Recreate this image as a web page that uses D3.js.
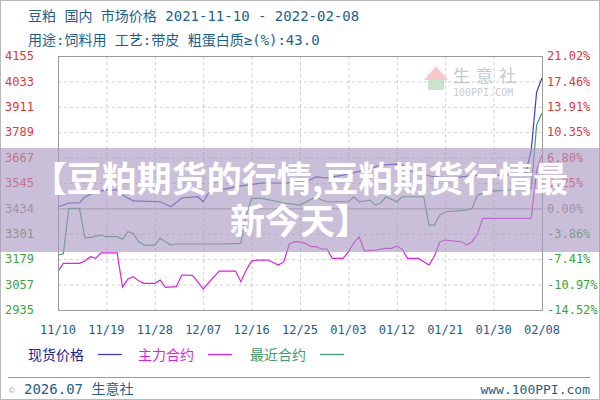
<!DOCTYPE html>
<html lang="zh">
<head>
<meta charset="utf-8">
<title>豆粕 市场价格</title>
<script src="https://d3js.org/d3.v7.min.js"></script>
<style>
    body {
        margin: 0;
        background: #fff;
    }
    svg {
        display: block;
    }
    text {
        font-family: "DejaVu Sans Mono", "Noto Sans CJK SC", monospace;
    }
    .cjk {
        font-family: "Noto Sans CJK SC", sans-serif;
    }
</style>
</head>
<body>
<svg id="chart"></svg>
<script>
// tick labels
const dateLabels = ["11/10", "11/19", "11/28", "12/07", "12/16", "12/25", "01/03", "01/12", "01/21", "01/30", "02/08"];
const leftLabels = ["2935", "3057", "3179", "3301", "3434", "3545", "3667", "3789", "3911", "4033", "4155"];
const rightLabels = ["-14.52%", "-10.97%", "-7.41%", "-3.86%", "0.00%", "3.25%", "6.80%", "10.35%", "13.91%", "17.46%", "21.02%"];

// 现货价格 (day offset from 2021-11-10, price)
const spotDay = [0, 2, 4, 5, 7, 9, 11, 12, 14, 19, 21, 23, 26, 27, 28, 30, 34, 38, 42, 46, 48, 50, 53, 57, 60, 63, 64, 66, 70, 73, 78, 82, 86, 87, 88, 89, 90];
const spotPrice = [3430, 3449, 3449, 3478, 3502, 3511, 3511, 3487, 3459, 3455, 3431, 3473, 3479, 3455, 3497, 3511, 3531, 3545, 3545, 3550, 3574, 3569, 3583, 3607, 3631, 3636, 3631, 3598, 3574, 3569, 3583, 3583, 3588, 3593, 3703, 3982, 4049];

// 主力合约
const mainDay = [0, 1, 4, 5, 6, 7, 8, 11, 12, 13, 14, 15, 16, 18, 19, 20, 22, 23, 25, 26, 27, 29, 30, 33, 34, 35, 36, 37, 39, 41, 42, 43, 44, 45, 46, 47, 48, 49, 50, 51, 53, 54, 55, 56, 57, 58, 59, 61, 62, 63, 64, 65, 67, 69, 70, 71, 72, 75, 76, 77, 78, 79, 81, 88, 89, 90];
const mainPrice = [3122, 3159, 3159, 3170, 3191, 3183, 3209, 3209, 3045, 3084, 3095, 3075, 3063, 3063, 3079, 3044, 3047, 3103, 3101, 3070, 3036, 3095, 3122, 3122, 3071, 3127, 3170, 3175, 3175, 3151, 3167, 3252, 3263, 3262, 3255, 3239, 3239, 3228, 3228, 3183, 3183, 3214, 3257, 3286, 3218, 3221, 3223, 3231, 3231, 3242, 3227, 3183, 3183, 3151, 3194, 3262, 3271, 3263, 3247, 3263, 3300, 3375, 3375, 3375, 3607, 3679];

// 最近合约
const nearDay = [0, 1, 2, 4, 5, 6, 8, 9, 11, 12, 13, 14, 15, 16, 18, 19, 20, 21, 22, 31, 34, 35, 36, 38, 42, 45, 48, 49, 50, 54, 55, 56, 58, 59, 60, 61, 63, 64, 68, 69, 70, 71, 72, 76, 77, 78, 80, 84, 87, 88, 89, 90];
const nearPrice = [3199, 3205, 3423, 3423, 3281, 3284, 3295, 3287, 3287, 3275, 3311, 3303, 3263, 3247, 3247, 3279, 3263, 3247, 3252, 3252, 3255, 3391, 3471, 3471, 3449, 3439, 3479, 3463, 3455, 3455, 3479, 3455, 3463, 3439, 3449, 3479, 3455, 3479, 3479, 3343, 3343, 3391, 3407, 3415, 3423, 3487, 3505, 3511, 3515, 3520, 3823, 3881];

const w = 600, h = 400;
const margin = {top: 56, right: 58, bottom: 90, left: 58};
const plotW = w - margin.left - margin.right;
const plotH = h - margin.top - margin.bottom;

const svg = d3.select("#chart")
    .attr("width", w)
    .attr("height", h);

// scales
const x = d3.scaleLinear().domain([0, 90]).range([margin.left, margin.left + plotW]);
const y = d3.scaleLinear().domain([2935, 4155]).range([margin.top + plotH, margin.top]);
const tickY = d3.scaleLinear().domain([0, leftLabels.length - 1]).range([margin.top + plotH, margin.top]);
const baseIndex = 4;

// outer frame
svg.append("rect")
    .attr("x", 0.5).attr("y", 0.5)
    .attr("width", w - 1).attr("height", h - 1)
    .attr("fill", "none")
    .attr("stroke", "#b8b8b8");

// header
svg.append("text")
    .attr("x", 28).attr("y", 21)
    .attr("fill", "#1d5f8c")
    .style("font-size", "14px")
    .text("豆粕 国内 市场价格 2021-11-10 - 2022-02-08");
svg.append("text")
    .attr("x", 28).attr("y", 45)
    .attr("fill", "#1d5f8c")
    .style("font-size", "14px")
    .text("用途:饲料用 工艺:带皮 粗蛋白质≥(%):43.0");

// grid
const grid = svg.append("g");
leftLabels.forEach((d, i) => {
    if (i == 0 || i == leftLabels.length - 1) return;
    grid.append("line")
        .attr("x1", margin.left).attr("x2", margin.left + plotW)
        .attr("y1", tickY(i) + 0.5).attr("y2", tickY(i) + 0.5)
        .attr("stroke", i == baseIndex ? "#9a9a9a" : "#cfcfcf")
        .attr("stroke-dasharray", i == baseIndex ? null : "3,3");
});
dateLabels.forEach((d, i) => {
    if (i == 0 || i == dateLabels.length - 1) return;
    grid.append("line")
        .attr("x1", x(i * 9) + 0.5).attr("x2", x(i * 9) + 0.5)
        .attr("y1", margin.top).attr("y2", margin.top + plotH)
        .attr("stroke", "#cfcfcf")
        .attr("stroke-dasharray", "3,3");
});

// watermark
const wm = svg.append("g").attr("opacity", 0.75);
wm.append("path")
    .attr("d", "M424,80 L436,66 L448,80 Z")
    .attr("fill", "#f2b8b8");
wm.append("rect")
    .attr("x", 428).attr("y", 80).attr("width", 16).attr("height", 10)
    .attr("fill", "#b9dcc0");
wm.append("text")
    .attr("class", "cjk")
    .attr("x", 453).attr("y", 82)
    .attr("fill", "#aeb9c6")
    .style("font-size", "17px")
    .style("letter-spacing", "6px")
    .text("生意社");
wm.append("text")
    .attr("x", 453).attr("y", 96)
    .attr("fill", "#b4bcc6")
    .style("font-size", "10px")
    .text("100PPI.COM");

// lines
const line = d3.line()
    .x(d => x(d[0]))
    .y(d => y(d[1]));

const series = [
    {name: "现货价格", days: spotDay, values: spotPrice, color: "#3c3ccc", text: "#1b1b96"},
    {name: "主力合约", days: mainDay, values: mainPrice, color: "#e01ee0", text: "#e01ee0"},
    {name: "最近合约", days: nearDay, values: nearPrice, color: "#3f9c6c", text: "#3f9c6c"}
];

svg.append("g")
    .selectAll("path")
    .data([series[2], series[1], series[0]])
    .enter()
    .append("path")
    .attr("d", s => line(s.days.map((d, i) => [d, s.values[i]])))
    .attr("fill", "none")
    .attr("stroke", s => s.color)
    .attr("stroke-width", 1.2);

// plot frame
svg.append("rect")
    .attr("x", margin.left + 0.5).attr("y", margin.top + 0.5)
    .attr("width", plotW).attr("height", plotH)
    .attr("fill", "none")
    .attr("stroke", "#9a9a9a");

// y labels
function labelColor(i) {
    if (i > baseIndex) return "#e2363b";
    if (i == baseIndex) return "#8a8a8a";
    return "#3aa43a";
}
svg.append("g")
    .selectAll("text")
    .data(leftLabels)
    .enter()
    .append("text")
    .attr("x", 34)
    .attr("y", (d, i) => tickY(i))
    .attr("dy", "0.35em")
    .attr("text-anchor", "end")
    .attr("fill", (d, i) => labelColor(i))
    .style("font-size", "12px")
    .text(d => d);
svg.append("g")
    .selectAll("text")
    .data(rightLabels)
    .enter()
    .append("text")
    .attr("x", 547)
    .attr("y", (d, i) => tickY(i))
    .attr("dy", "0.35em")
    .attr("fill", (d, i) => labelColor(i))
    .style("font-size", "12px")
    .text(d => d);

// x labels
svg.append("g")
    .selectAll("text")
    .data(dateLabels)
    .enter()
    .append("text")
    .attr("x", (d, i) => x(i * 9))
    .attr("y", 334)
    .attr("text-anchor", "middle")
    .attr("fill", "#235a8c")
    .style("font-size", "12px")
    .text(d => d);

// legend
const legendX = [28, 138, 250];
const legend = svg.append("g")
    .selectAll("g")
    .data(series)
    .enter()
    .append("g")
    .attr("transform", (d, i) => "translate(" + legendX[i] + ",360)");
legend.append("text")
    .attr("class", "cjk")
    .attr("fill", d => d.text)
    .style("font-size", "14px")
    .text(d => d.name);
legend.append("line")
    .attr("x1", 70).attr("x2", 94)
    .attr("y1", -5.5).attr("y2", -5.5)
    .attr("stroke", d => d.color)
    .attr("stroke-width", 1.3);

// footer
svg.append("line")
    .attr("x1", 8).attr("x2", 590)
    .attr("y1", 377.5).attr("y2", 377.5)
    .attr("stroke", "#9a9a9a");
svg.append("text")
    .attr("x", 9).attr("y", 393)
    .attr("fill", "#b0b0b0")
    .style("font-size", "9px")
    .text("©");
svg.append("text")
    .attr("x", 24).attr("y", 394)
    .attr("fill", "#1d5f8c")
    .style("font-size", "14px")
    .text("2026.07 生意社");
svg.append("text")
    .attr("x", 590).attr("y", 394)
    .attr("text-anchor", "end")
    .attr("fill", "#1d5f8c")
    .style("font-size", "13px")
    .text("www.100PPI.com");

// title band over the chart
svg.append("rect")
    .attr("x", 0).attr("y", 148)
    .attr("width", w).attr("height", 104)
    .attr("fill", "rgb(170,152,192)")
    .attr("opacity", 0.62);
const title = svg.append("text")
    .attr("class", "cjk")
    .attr("text-anchor", "middle")
    .attr("fill", "#ffffff")
    .style("font-size", "35px")
    .style("font-weight", "bold");
title.append("tspan").attr("x", 300).attr("y", 192).text("【豆粕期货的行情,豆粕期货行情最");
title.append("tspan").attr("x", 300).attr("y", 234).text("新今天】");
</script>
</body>
</html>
